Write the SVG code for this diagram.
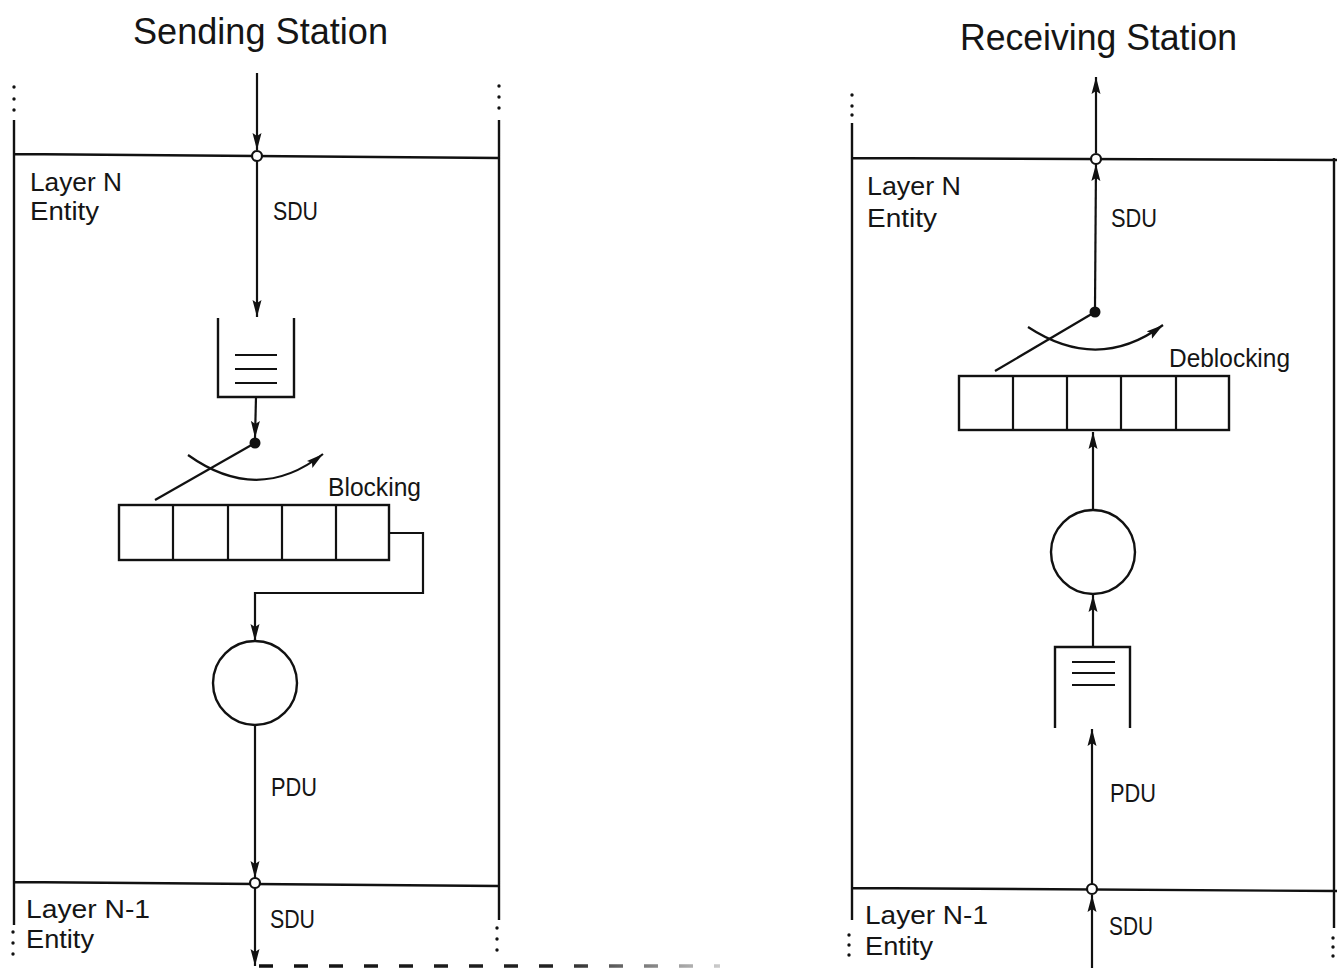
<svg xmlns="http://www.w3.org/2000/svg" width="1337" height="968" viewBox="0 0 1337 968">
<style>
.ln{stroke:#111;stroke-width:2.2;fill:none}
.bx{stroke:#111;stroke-width:2.4;fill:none}
.dot{fill:#111;stroke:none}
.jn{fill:#fff;stroke:#111;stroke-width:2.2}
.t{font-family:"Liberation Sans","DejaVu Sans",Arial,sans-serif;font-size:25px;fill:#151515}
.ti{font-family:"Liberation Sans","DejaVu Sans",Arial,sans-serif;font-size:37px;fill:#151515}
</style>
<defs>
<marker id="ar" markerUnits="userSpaceOnUse" markerWidth="20" markerHeight="12" refX="17" refY="5" orient="auto">
<path d="M0,0.5 L17,5 L0,9.5 L3,5 z" fill="#111"/>
</marker>
<linearGradient id="fade" x1="258" y1="0" x2="720" y2="0" gradientUnits="userSpaceOnUse">
<stop offset="0" stop-color="#111"/>
<stop offset="0.65" stop-color="#222"/>
<stop offset="1" stop-color="#ccc"/>
</linearGradient>
</defs>

<g id="sending-station">
<text class="ti" x="133" y="44" textLength="255" lengthAdjust="spacingAndGlyphs">Sending Station</text>
<path class="bx" d="M14,120 V925 M499,120 V920 M14,154 L499,158 M14,882 L498,886"/>
<g class="dot">
<circle cx="14" cy="87" r="1.7"/><circle cx="14" cy="99" r="1.7"/><circle cx="14" cy="110" r="1.7"/>
<circle cx="499" cy="86" r="1.7"/><circle cx="499" cy="97" r="1.7"/><circle cx="499" cy="108" r="1.7"/>
<circle cx="13" cy="932" r="1.7"/><circle cx="13" cy="943" r="1.7"/><circle cx="13" cy="954" r="1.7"/>
<circle cx="497" cy="928" r="1.7"/><circle cx="497" cy="939" r="1.7"/><circle cx="497" cy="950" r="1.7"/>
</g>
<text class="t" x="30" y="191" textLength="92" lengthAdjust="spacingAndGlyphs">Layer N</text>
<text class="t" x="30" y="220" textLength="69" lengthAdjust="spacingAndGlyphs">Entity</text>
<text class="t" x="26" y="918" textLength="124" lengthAdjust="spacingAndGlyphs">Layer N-1</text>
<text class="t" x="26" y="948" textLength="68" lengthAdjust="spacingAndGlyphs">Entity</text>
</g>

<g id="send-queue">
<path class="bx" d="M218,318 V397 H294 V318"/>
<path class="ln" d="M235,355 H277 M235,369 H277 M235,383 H277"/>
</g>

<g id="send-switch">
<circle class="dot" cx="255" cy="443" r="5.5"/>
</g>

<g id="send-block">
<rect class="bx" x="119" y="505" width="270" height="55"/>
<path class="ln" d="M173,505 V560 M228,505 V560 M282,505 V560 M336,505 V560"/>
<text class="t" x="328" y="496" textLength="93" lengthAdjust="spacingAndGlyphs">Blocking</text>
</g>

<g id="send-process">
<circle class="bx" cx="255" cy="683" r="42"/>
</g>

<g id="receiving-station">
<text class="ti" x="960" y="50" textLength="277" lengthAdjust="spacingAndGlyphs">Receiving Station</text>
<path class="bx" d="M852,123 V920 M1334,158 V928 M852,158 L1337,160 M852,888 L1337,891"/>
<g class="dot">
<circle cx="852" cy="95" r="1.7"/><circle cx="852" cy="106" r="1.7"/><circle cx="852" cy="115" r="1.7"/>
<circle cx="849" cy="935" r="1.7"/><circle cx="849" cy="945" r="1.7"/><circle cx="849" cy="955" r="1.7"/>
<circle cx="1333" cy="938" r="1.7"/><circle cx="1333" cy="947" r="1.7"/><circle cx="1333" cy="956" r="1.7"/>
</g>
<text class="t" x="867" y="195" textLength="94" lengthAdjust="spacingAndGlyphs">Layer N</text>
<text class="t" x="867" y="227" textLength="70" lengthAdjust="spacingAndGlyphs">Entity</text>
<text class="t" x="865" y="924" textLength="123" lengthAdjust="spacingAndGlyphs">Layer N-1</text>
<text class="t" x="865" y="955" textLength="68" lengthAdjust="spacingAndGlyphs">Entity</text>
</g>

<g id="recv-switch">
<circle class="dot" cx="1095" cy="312" r="5.5"/>
</g>

<g id="recv-block">
<rect class="bx" x="959" y="376" width="270" height="54"/>
<path class="ln" d="M1013,376 V430 M1067,376 V430 M1121,376 V430 M1176,376 V430"/>
<text class="t" x="1169" y="367" textLength="121" lengthAdjust="spacingAndGlyphs">Deblocking</text>
</g>

<g id="recv-process">
<circle class="bx" cx="1093" cy="552" r="42"/>
</g>

<g id="recv-queue">
<path class="bx" d="M1055,728 V647 H1130 V728"/>
<path class="ln" d="M1072,662 H1115 M1072,673 H1115 M1072,685 H1115"/>
</g>

<g id="connectors">
<path class="ln" d="M257,73 V150" marker-end="url(#ar)"/>
<path class="ln" d="M257,161 V317" marker-end="url(#ar)"/>
<path class="ln" d="M256,397 L255,438" marker-end="url(#ar)"/>
<path class="ln" d="M255,443 L155,500"/>
<path class="ln" d="M188,455 Q258,505 323,454" marker-end="url(#ar)"/>
<path class="ln" d="M389,533 H423 V593 H255 V641" marker-end="url(#ar)"/>
<path class="ln" d="M255,725 V878" marker-end="url(#ar)"/>
<path class="ln" d="M255,888 V966" marker-end="url(#ar)"/>
<path d="M259,966 H720" stroke="url(#fade)" stroke-width="3.5" stroke-dasharray="14 21" fill="none"/>
<path class="ln" d="M1096,153 V77" marker-end="url(#ar)"/>
<path class="ln" d="M1095,307 L1096,164" marker-end="url(#ar)"/>
<path class="ln" d="M1095,312 L995,371"/>
<path class="ln" d="M1028,327 Q1098,373 1163,325" marker-end="url(#ar)"/>
<path class="ln" d="M1093,509 V432" marker-end="url(#ar)"/>
<path class="ln" d="M1093,647 V595" marker-end="url(#ar)"/>
<path class="ln" d="M1092,884 V729" marker-end="url(#ar)"/>
<path class="ln" d="M1092,968 V895" marker-end="url(#ar)"/>
<circle class="jn" cx="257" cy="156" r="5"/>
<circle class="jn" cx="255" cy="883" r="5"/>
<circle class="jn" cx="1096" cy="159" r="5"/>
<circle class="jn" cx="1092" cy="889" r="5"/>
<text class="t" x="273" y="220" textLength="45" lengthAdjust="spacingAndGlyphs">SDU</text>
<text class="t" x="271" y="796" textLength="46" lengthAdjust="spacingAndGlyphs">PDU</text>
<text class="t" x="270" y="928" textLength="45" lengthAdjust="spacingAndGlyphs">SDU</text>
<text class="t" x="1111" y="227" textLength="46" lengthAdjust="spacingAndGlyphs">SDU</text>
<text class="t" x="1110" y="802" textLength="46" lengthAdjust="spacingAndGlyphs">PDU</text>
<text class="t" x="1109" y="935" textLength="44" lengthAdjust="spacingAndGlyphs">SDU</text>
</g>
</svg>
